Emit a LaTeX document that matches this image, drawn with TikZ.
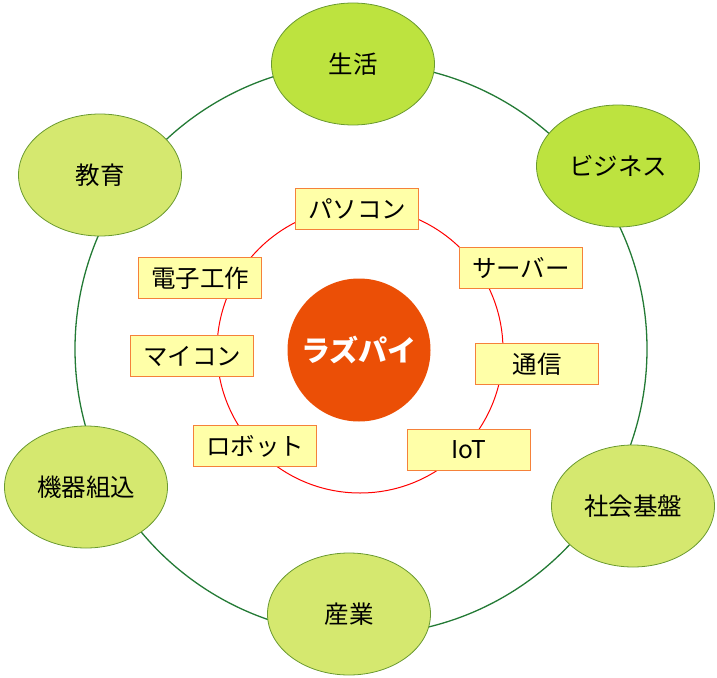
\documentclass[tikz,border=0pt]{standalone}
\usepackage{fontspec}
\setmainfont{Noto Sans CJK JP}
\usepackage{xcolor}
\definecolor{raspired}{HTML}{EB4F06}
\definecolor{fieldgreen}{HTML}{BDE33F}
\definecolor{fieldlight}{HTML}{D5E86F}
\definecolor{fieldedge}{HTML}{6A9A30}
\definecolor{ringgreen}{HTML}{237A35}
\definecolor{tagfill}{HTML}{FFFFA8}
\definecolor{tagedge}{HTML}{F5813A}
\usepackage{tikz}
\usetikzlibrary{shapes.geometric,positioning}

\begin{document}
\begin{tikzpicture}[
  x=1pt, y=-1pt,
  every node/.style={font=\fontsize{24.5}{28}\selectfont},
  field/.style={ellipse, draw=fieldedge, line width=0.8pt, fill=fieldlight, minimum width=163pt, minimum height=122pt, inner sep=0pt},
  mainfield/.style={field, fill=fieldgreen},
  tag/.style={rectangle, draw=tagedge, line width=1.3pt, fill=tagfill, minimum width=123pt, minimum height=41pt, inner sep=0pt},
  core/.style={circle, fill=raspired, minimum size=143pt, inner sep=0pt, text=white, font=\fontsize{29}{32}\selectfont\bfseries},
  outerring/.style={ringgreen, line width=1.3pt},
  innerring/.style={red, line width=1pt},
]
  \useasboundingbox (0,0) rectangle (717,677);

  % rings
  \coordinate (mid) at (361,349);
  \draw[outerring] (mid) circle (286);
  \draw[innerring] (360,350) circle (143);

  % fields of use
  \node[mainfield] (life)  at (353,64)  {生活};
  \node[mainfield] (biz)   at (618,166) {ビジネス};
  \node[field]     (edu)   at (100,175) {教育};
  \node[field]     (infra) at (633,506) {社会基盤};
  \node[field]     (embed) at (86,487)  {機器組込};
  \node[field]     (ind)   at (349,614) {産業};

  % centre
  \node[core] (rpi) at (359,350) {ラズパイ};

  % uses
  \node[tag] (pc)    at (357,209) {パソコン};
  \node[tag] (elec)  at (200,278) {電子工作};
  \node[tag] (srv)   at (521,268) {サーバー};
  \node[tag] (comm)  at (537,364) {通信};
  \node[tag] (mcu)   at (192,356) {マイコン};
  \node[tag] (iot)   at (469,450) {IoT};
  \node[tag] (robot) at (255,446) {ロボット};
\end{tikzpicture}
\end{document}
